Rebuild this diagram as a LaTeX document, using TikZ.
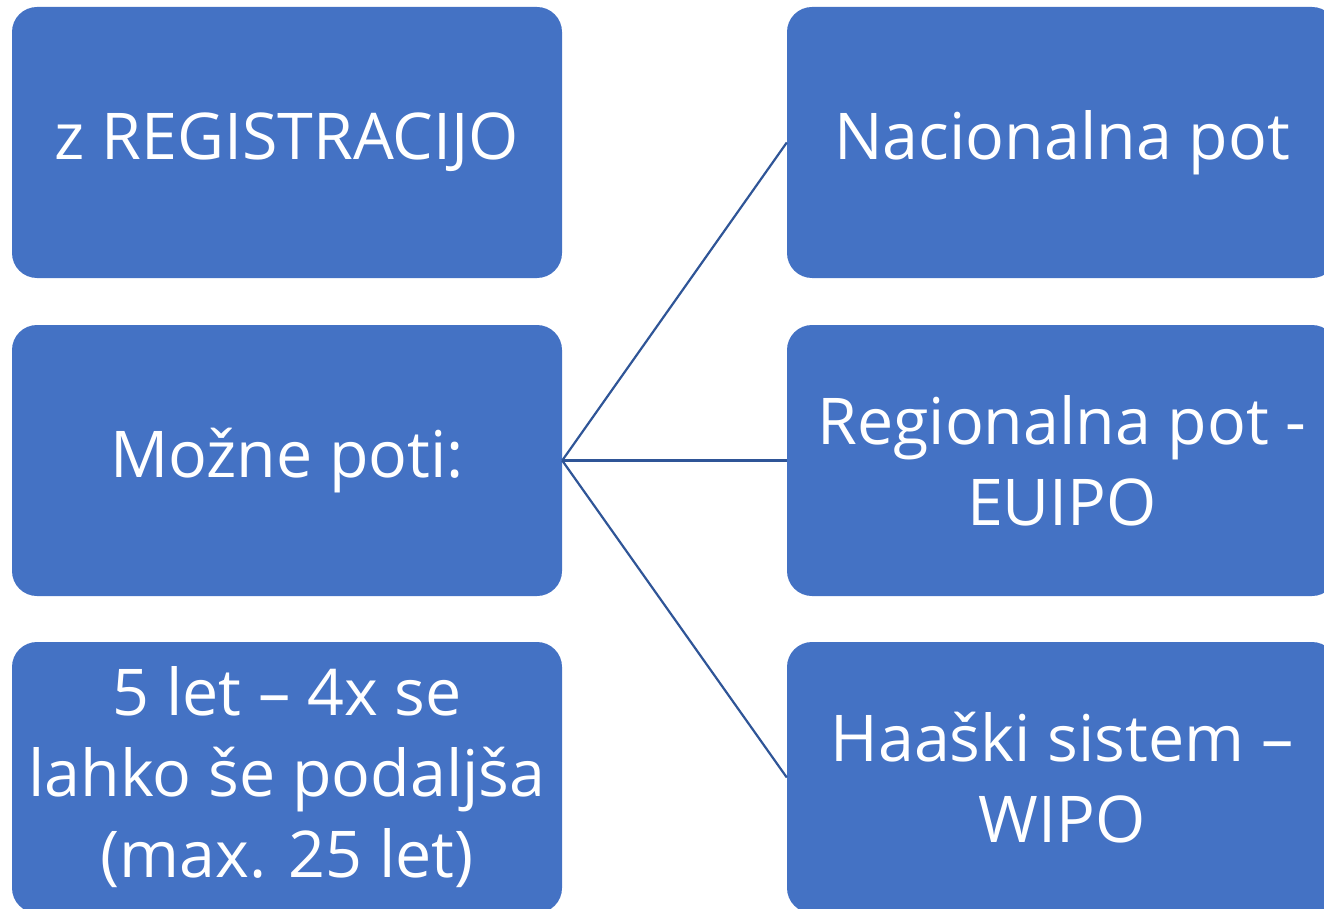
\documentclass[tikz,border=0pt]{standalone}
\usepackage{fontspec}
\setmainfont{Open Sans}
\definecolor{boxblue}{HTML}{4472C4}
\definecolor{lineblue}{HTML}{2F5597}
\begin{document}
\begin{tikzpicture}[x=1pt,y=1pt,
  box/.style={rectangle, rounded corners=25pt, fill=boxblue, draw=none,
    minimum width=550pt, minimum height=271pt, inner sep=0pt,
    text=white, align=center, font=\fontsize{64.5}{81}\selectfont},
  conn/.style={draw=lineblue, line width=2.2pt}]
\useasboundingbox (0,0) rectangle (1324,-909);
\begin{scope}
\clip (0,0) rectangle (1324,-909);
\node[box] (reg) at (287,-142.5) {\raisebox{-8pt}{z REGISTRACIJO}};
\node[box] (poti) at (287,-460.5) {\raisebox{-8pt}{Možne poti:}};
\node[box] (let) at (287,-777.5) {5 let – 4x se\\lahko še podaljša\\(max. 25 let)};
\node[box] (nac) at (1062,-142.5) {\raisebox{-8pt}{Nacionalna pot}};
\node[box] (eu) at (1062,-460.5) {Regionalna pot -\\EUIPO};
\node[box] (wipo) at (1062,-777.5) {Haaški sistem –\\WIPO};
\draw[conn] (poti.east) -- (nac.west);
\draw[conn] (poti.east) -- (eu.west);
\draw[conn] (poti.east) -- (wipo.west);
\end{scope}
\end{tikzpicture}
\end{document}
